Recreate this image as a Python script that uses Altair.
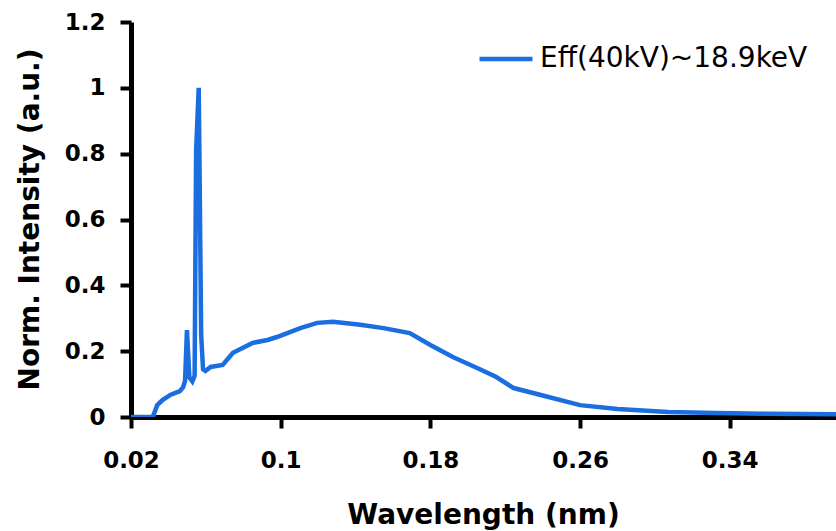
import altair as alt
import pandas as pd

# Wavelength (nm) and normalized intensity
wavelength = [0.020, 0.031, 0.032, 0.034, 0.037, 0.041, 0.044, 0.046, 0.0478,
              0.0489, 0.0499, 0.0512, 0.0528, 0.0540, 0.0548, 0.0562, 0.0575,
              0.0585, 0.0598, 0.0625, 0.0690, 0.0745, 0.0850, 0.0930, 0.0980,
              0.1105, 0.1195, 0.1280, 0.1425, 0.1550, 0.1690, 0.1800, 0.1920,
              0.2050, 0.2150, 0.2245, 0.2390, 0.2600, 0.2800, 0.3070, 0.3330,
              0.3600, 0.3970]
intensity = [0.0, 0.0, 0.005, 0.036, 0.052, 0.067, 0.074, 0.078, 0.09,
             0.11, 0.264, 0.12, 0.108, 0.125, 0.81, 1.0, 0.25,
             0.145, 0.14, 0.152, 0.158, 0.195, 0.225, 0.234, 0.243,
             0.27, 0.286, 0.289, 0.28, 0.27, 0.255, 0.219, 0.182,
             0.149, 0.122, 0.088, 0.067, 0.036, 0.024, 0.015, 0.012,
             0.010, 0.008]
series_name = "Eff(40kV)~18.9keV"

x_ticks = [0.02, 0.1, 0.18, 0.26, 0.34]
y_ticks = [0, 0.2, 0.4, 0.6, 0.8, 1.0, 1.2]

df = pd.DataFrame({"w": wavelength, "i": intensity, "s": [series_name] * len(wavelength)})

blue = "#1a6ee0"

axis_style = dict(grid=False, ticks=True, domain=True, domainColor="black", domainWidth=5,
                  tickColor="black", tickWidth=4, tickSize=11,
                  labelFont="DejaVu Sans", labelFontWeight="bold", labelFontSize=23,
                  labelColor="black", titleFont="DejaVu Sans", titleFontWeight="bold",
                  titleFontSize=28, titleColor="black", titleBaseline="alphabetic")

chart = alt.Chart(df).mark_line(strokeWidth=4.5, clip=True).encode(
    x=alt.X("w:Q",
            scale=alt.Scale(domain=[0.02, 0.3968], nice=False, zero=False),
            axis=alt.Axis(values=x_ticks, labelExpr="format(datum.value, '.2~f')",
                          title="Wavelength (nm)", labelFlush=False, labelOverlap=False,
                          labelPadding=21, titleX=352, titleY=106, **axis_style)),
    y=alt.Y("i:Q",
            scale=alt.Scale(domain=[0, 1.2], nice=False),
            axis=alt.Axis(values=y_ticks, labelExpr="format(datum.value, '.1~f')",
                          title="Norm. Intensity (a.u.)", labelFlush=False,
                          labelOverlap=False, labelPadding=15, titleX=-93, titleY=197,
                          titleAngle=-90, **axis_style)),
    color=alt.Color("s:N", scale=alt.Scale(range=[blue]),
                    legend=alt.Legend(title=None, orient="none", legendX=346, legendY=8,
                                      symbolType="stroke", symbolSize=2809,
                                      symbolStrokeWidth=4.5, labelFont="DejaVu Sans",
                                      labelFontSize=28, labelColor="black",
                                      labelLimit=0, labelOffset=5, padding=0)),
).properties(
    width=705, height=395,
    autosize=alt.AutoSizeParams(type="none"),
    padding={"left": 131, "top": 22, "right": 0, "bottom": 114},
).configure_view(stroke=None)

chart.save("out.html", embed_options={"renderer": "svg", "actions": False})
